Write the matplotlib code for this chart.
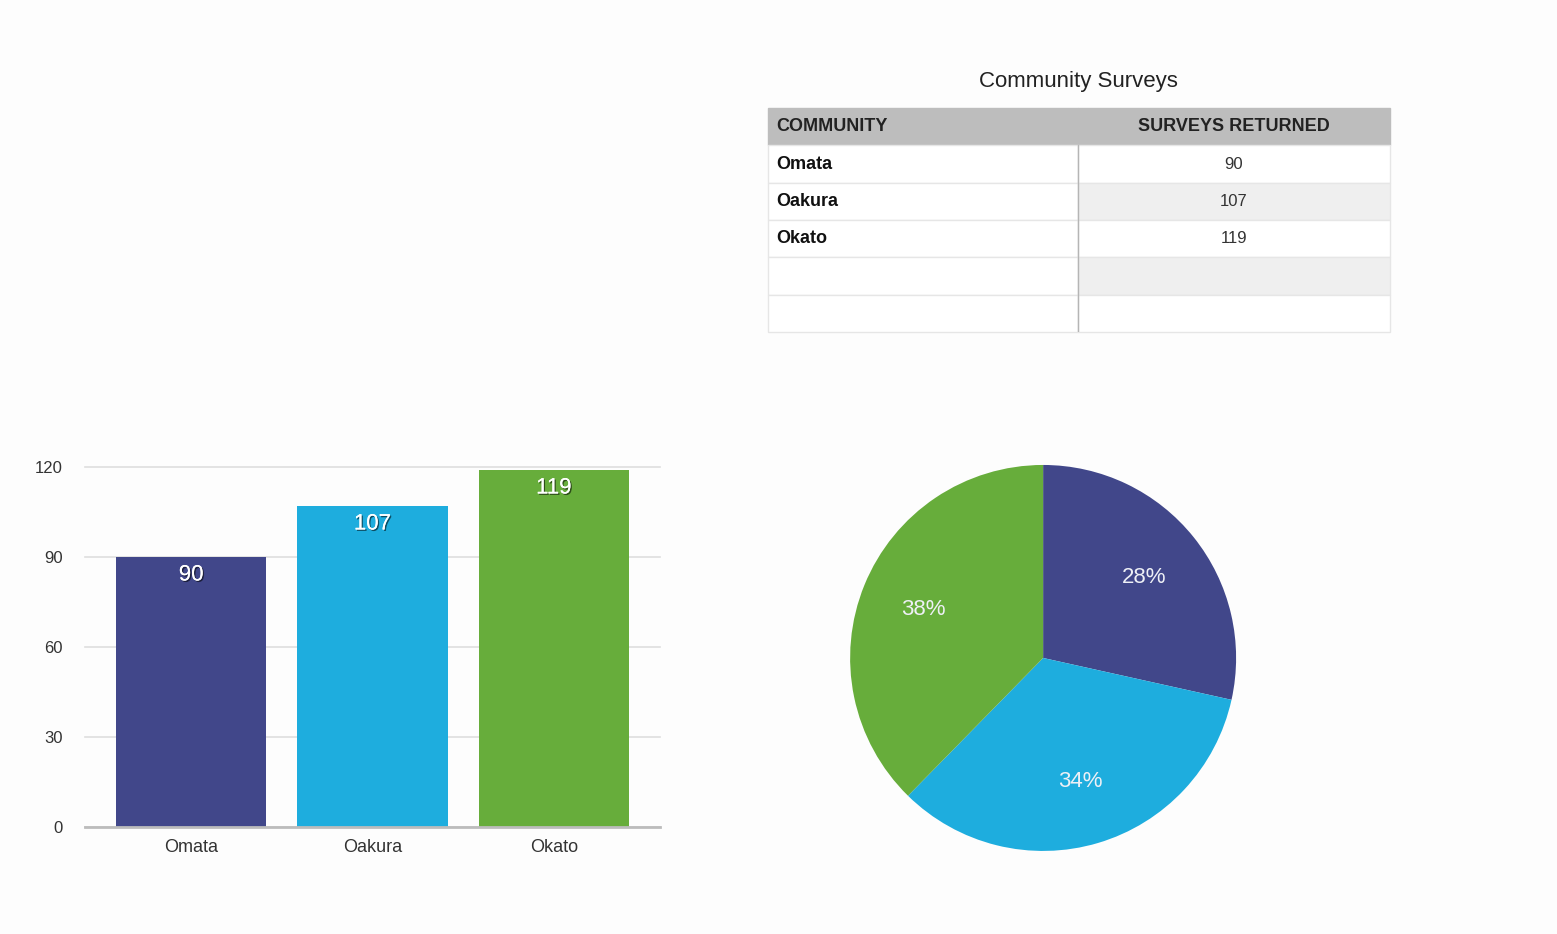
import matplotlib
matplotlib.use("Agg")
import matplotlib.pyplot as plt
import matplotlib.patheffects as pe

communities = ["Omata", "Oakura", "Okato"]
surveys = [90, 107, 119]
colors = ["#41478A", "#1EADDE", "#67AD3B"]
y_ticks = [0, 30, 60, 90, 120]
headers = ["COMMUNITY", "SURVEYS RETURNED"]
blank_rows = 2

plt.rcParams['font.family'] = ['Liberation Sans', 'DejaVu Sans']

fig = plt.figure(figsize=(15.57, 9.34), dpi=100, facecolor='#fdfdfd')

# --- bar chart ---
ax = fig.add_axes([0.0546, 0.1146, 0.3693, 0.3854])
ax.set_facecolor('none')
xs = list(range(len(communities)))
bars = ax.bar(xs, surveys, width=0.83, color=colors, zorder=3)
ax.set_xlim(-0.585, len(communities) - 1 + 0.585)
ax.set_ylim(0, 120)
ax.set_yticks(y_ticks)
ax.set_xticks(xs)
ax.set_xticklabels(communities)
for ln in ax.yaxis.get_gridlines():
    ln.set_clip_on(False)
ax.grid(axis='y', color='#dedede', lw=1.2, zorder=0)
ax.axhline(0, color='#bcbcbc', lw=2, zorder=4, clip_on=False)
for s in ax.spines.values():
    s.set_visible(False)
ax.tick_params(length=0, colors='#333333')
ax.tick_params(axis='y', pad=16, labelsize=12)
ax.tick_params(axis='x', pad=9, labelsize=13)

shadow = [pe.withSimplePatchShadow(offset=(1, -1), shadow_rgbFace='black', alpha=0.55), pe.Normal()]
for b, v in zip(bars, surveys):
    ax.annotate(str(v), (b.get_x() + b.get_width() / 2, v), xytext=(0, -18),
                textcoords='offset pixels', ha='center', va='center',
                color='white', fontsize=16, path_effects=shadow, zorder=5)

# --- pie chart ---
pax = fig.add_axes([0.546, 0.0889, 0.2479, 0.4133])
wedges, texts, autotexts = pax.pie(surveys, colors=colors, startangle=90, counterclock=False,
                                   autopct='%.0f%%', pctdistance=0.67,
                                   textprops=dict(color='#eef0f6', fontsize=16))
pax.set_xlim(-1, 1)
pax.set_ylim(-1, 1)
pax.set_aspect('equal')

# --- table ---
fig.text(1078 / 1557, 1 - 82 / 934, "Community Surveys", ha='center', va='center',
         fontsize=16, color='#222222')

tax = fig.add_axes([0.4933, 0.6445, 0.3995, 0.2398])
tax.axis('off')
tax.set_xlim(0, 1)
tax.set_ylim(0, 1)
cell_text = [[c, str(v)] for c, v in zip(communities, surveys)] + [["", ""]] * blank_rows
tbl = tax.table(cellText=cell_text, colLabels=headers, bbox=[0, 0, 1, 1],
                colWidths=[0.498, 0.502], cellLoc='left')
tbl.auto_set_font_size(False)
split = 0.498
for (r, c), cell in tbl.get_celld().items():
    cell.set_linewidth(1)
    txt = cell.get_text()
    if c == 0:
        cell.PAD = 8 / 310
        txt.set_ha('left')
        cell._loc = 'left'
    else:
        cell._loc = 'center'
        txt.set_ha('center')
    if r == 0:
        cell.set_facecolor('#bdbdbd')
        cell.set_edgecolor('#bdbdbd')
        txt.set_fontweight('bold')
        txt.set_fontsize(13)
        txt.set_color('#222222')
    else:
        cell.set_edgecolor('#e6e6e6')
        cell.set_facecolor('#efefef' if (c == 1 and r % 2 == 0) else '#ffffff')
        txt.set_fontsize(13 if c == 0 else 12)
        txt.set_fontweight('bold' if c == 0 else 'normal')
        txt.set_color('#111111' if c == 0 else '#333333')
n_rows = len(cell_text) + 1
tax.plot([split, split], [0, 1 - 1 / n_rows], color='#b5b5b5', lw=1, zorder=10)

fig.savefig("out.png", dpi=100, facecolor=fig.get_facecolor())
